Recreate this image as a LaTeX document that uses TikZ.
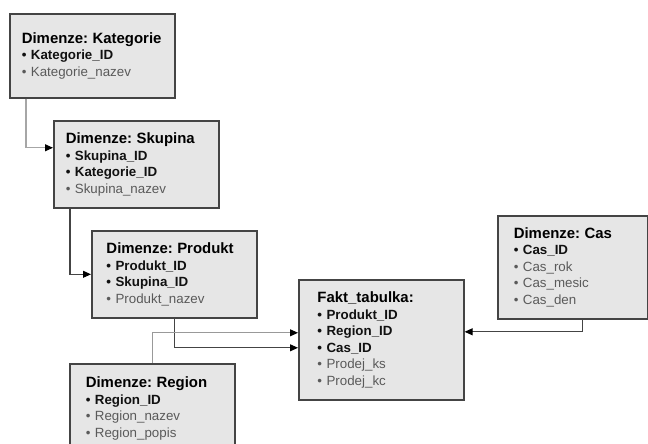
\documentclass[tikz,border=0pt]{standalone}
\usepackage{fontspec}
\setmainfont{Liberation Sans}
\usepackage{tikz}
\usetikzlibrary{arrows.meta}

\definecolor{boxfill}{HTML}{E6E6E6}
\definecolor{boxline}{HTML}{444444}
\definecolor{keytext}{HTML}{111111}
\definecolor{attrtext}{HTML}{5A5A5A}
\definecolor{linkline}{HTML}{444444}

\newcommand{\boxfont}{\fontsize{10}{12.4}\selectfont\frenchspacing\hyphenpenalty=10000\relax}
\newcommand{\tabtitle}[1]{{\fontsize{11.2}{12.4}\selectfont\bfseries #1}}
\newcommand{\keyitem}[1]{{\color{keytext}\bfseries\textbullet\ #1}}
\newcommand{\attritem}[1]{{\color{attrtext}\textbullet\ #1}}

\tikzset{
  dimbox/.style={draw=boxline, fill=boxfill, line width=1.2pt, anchor=north west,
    inner xsep=9pt, inner ysep=0pt, align=left, text width=105.75pt,
    minimum width=123.75pt, font=\boxfont},
  link/.style={draw=linkline, line width=0.8pt, -{Triangle[length=6pt,width=5.2pt,color=black]}}
}

\begin{document}
\begin{tikzpicture}[x=0.75pt,y=0.75pt,yscale=-1]
\useasboundingbox (0,0) rectangle (648,443);
\clip (0,0) rectangle (648,443);

%Shape: Rectangle - Kategorie
\node [dimbox, minimum height=63pt] (kat) at (9,13)
  {\tabtitle{Dimenze: Kategorie}\\ \keyitem{Kategorie\_ID}\\ \attritem{Kategorie\_nazev}};
%Shape: Rectangle - Skupina
\node [dimbox, minimum height=65.25pt] (sku) at (53,120)
  {\tabtitle{Dimenze: Skupina}\\ \keyitem{Skupina\_ID}\\ \keyitem{Kategorie\_ID}\\ \attritem{Skupina\_nazev}};
%Shape: Rectangle - Produkt
\node [dimbox, minimum height=65.25pt, inner xsep=11pt, text width=101.75pt] (pro) at (91,230)
  {\tabtitle{Dimenze: Produkt}\\ \keyitem{Produkt\_ID}\\ \keyitem{Skupina\_ID}\\ \attritem{Produkt\_nazev}};
%Shape: Rectangle - Fakt
\node [dimbox, minimum height=90pt, inner xsep=14pt, text width=95.75pt] (fakt) at (298,279)
  {\tabtitle{Fakt\_tabulka:}\\ \keyitem{Produkt\_ID}\\ \keyitem{Region\_ID}\\ \keyitem{Cas\_ID}\\ \attritem{Prodej\_ks}\\ \attritem{Prodej\_kc}};
%Shape: Rectangle - Cas
\node [dimbox, minimum height=77.25pt, minimum width=112.5pt, inner xsep=12pt, text width=88.5pt] (cas) at (497,215)
  {\tabtitle{Dimenze: Cas}\\ \keyitem{Cas\_ID}\\ \attritem{Cas\_rok}\\ \attritem{Cas\_mesic}\\ \attritem{Cas\_den}};
%Shape: Rectangle - Region (runs off the bottom)
\node [dimbox, minimum height=66.75pt, inner xsep=12pt, text width=99.75pt] (reg) at (69,363)
  {\tabtitle{Dimenze: Region}\\ \keyitem{Region\_ID}\\ \attritem{Region\_nazev}\\ \attritem{Region\_popis}};

%Straight Lines
\draw [link, draw=gray!70] ([xshift=12.75pt]kat.south west) |- ([yshift=-12.4pt]sku.west);
%Straight Lines
\draw [link] ([xshift=12.75pt]sku.south west) |- (pro.west);
%Straight Lines
\draw [link] (pro.south) |- ([yshift=6pt]fakt.west);
%Straight Lines
\draw [link, draw=gray!80] (reg.north) |- ([yshift=-5.25pt]fakt.west);
%Straight Lines
\draw [link] ([xshift=7.5pt]cas.south) |- ([yshift=-6pt]fakt.east);

\end{tikzpicture}
\end{document}
